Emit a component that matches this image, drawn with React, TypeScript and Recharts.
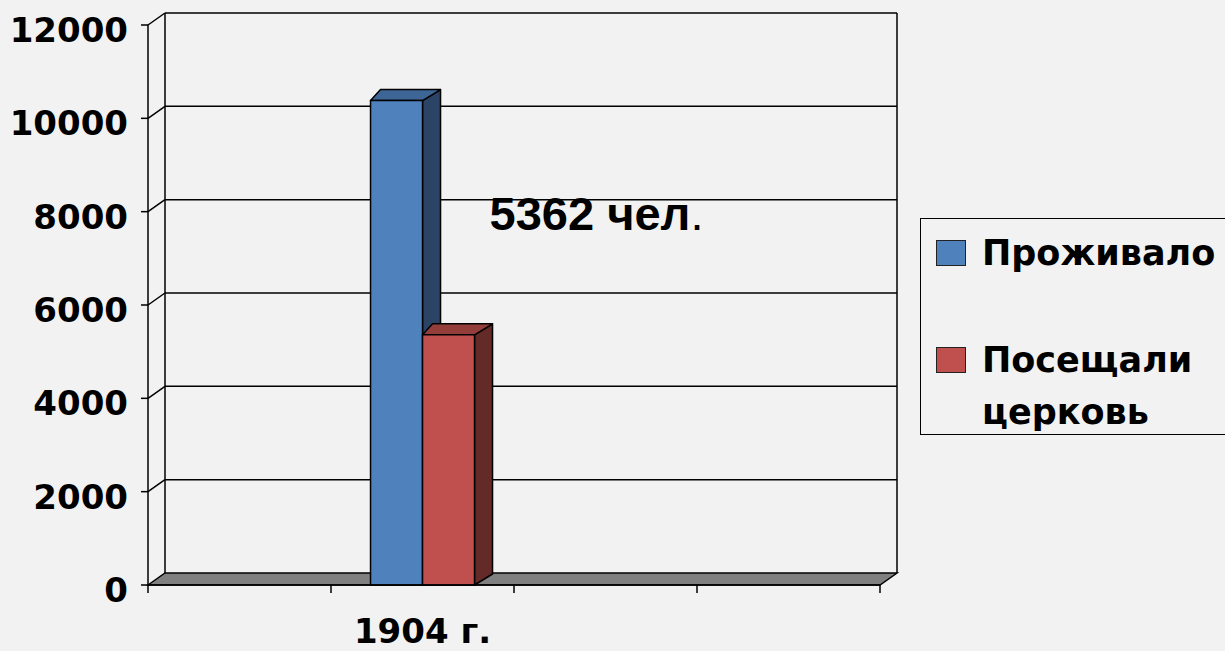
import React from 'react';
import { BarChart, Bar, XAxis, YAxis, CartesianGrid, Legend, LabelList } from 'recharts';

// Excel-style 3D column chart: one filled category out of four
const categories = ['', '1904 г.', '', ''];
const livedValues = [null, 10380, null, null];
const attendedValues = [null, 5362, null, null];
const seriesNames = ['Проживало', 'Посещали церковь'];
const yTicks = [0, 2000, 4000, 6000, 8000, 10000, 12000];
const unitSuffix = ' чел';

const data = categories.map((c, i) => ({
  category: c,
  lived: livedValues[i],
  attended: attendedValues[i],
}));

// depth of the fake 3D walls and bars
const WALL_DX = 17;
const WALL_DY = -12;
const BAR_DY = -11;
const BAR_TOP_DX = 10;
const BAR_SIDE_DX = 18;

const AXIS_FONT = '"DejaVu Sans", Verdana, sans-serif';

function WallLine(props: any) {
  const { x1, x2, y1, index, horizontalPoints } = props;
  const pts: number[] = Array.isArray(horizontalPoints) && horizontalPoints.length
    ? horizontalPoints
    : [props.y, props.y + props.height];
  const bottom = Math.max(...pts);
  const top = Math.min(...pts);
  const isFloor = Math.abs(y1 - bottom) < 0.5;
  const s = { stroke: '#000', strokeWidth: 1.5 };
  return (
    <g key={`wall-${index}`}>
      {isFloor ? (
        <>
          <line x1={x1 + WALL_DX} y1={top + WALL_DY} x2={x1 + WALL_DX} y2={bottom + WALL_DY} {...s} />
          <line x1={x2 + WALL_DX} y1={top + WALL_DY} x2={x2 + WALL_DX} y2={bottom + WALL_DY} {...s} />
          <polygon
            points={`${x1},${y1} ${x1 + WALL_DX},${y1 + WALL_DY} ${x2 + WALL_DX},${y1 + WALL_DY} ${x2},${y1}`}
            fill="#808080"
            {...s}
          />
        </>
      ) : (
        <>
          <line x1={x1} y1={y1} x2={x1 + WALL_DX} y2={y1 + WALL_DY} {...s} />
          <line x1={x1 + WALL_DX} y1={y1 + WALL_DY} x2={x2 + WALL_DX} y2={y1 + WALL_DY} {...s} />
        </>
      )}
    </g>
  );
}

const make3DShape = (front: string, topFill: string, side: string) => (props: any) => {
  const { x, y, width, height } = props;
  if (!height || height <= 0) return <g />;
  const r = x + width;
  const b = y + height;
  return (
    <g stroke="#000" strokeWidth={1.5} strokeLinejoin="round">
      <polygon
        points={`${r},${y} ${r + BAR_SIDE_DX},${y + BAR_DY} ${r + BAR_SIDE_DX},${b + BAR_DY} ${r},${b}`}
        fill={side}
      />
      <polygon
        points={`${x},${y} ${x + BAR_TOP_DX},${y + BAR_DY} ${r + BAR_SIDE_DX},${y + BAR_DY} ${r},${y}`}
        fill={topFill}
      />
      <rect x={x} y={y} width={width} height={height} fill={front} />
    </g>
  );
};

const YTick = (p: any) => (
  <text
    x={p.x}
    y={p.y + 5}
    textAnchor="end"
    dominantBaseline="central"
    fontFamily={AXIS_FONT}
    fontWeight="bold"
    fontSize={34}
    fill="#000"
  >
    {p.payload.value}
  </text>
);

const XTick = (p: any) => {
  const { x, y, payload, index, visibleTicksCount } = p;
  const half = payload.offset ?? 0;
  const label = typeof payload.value === 'number' ? categories[payload.value] : payload.value;
  return (
    <g>
      <line x1={x - half} y1={y} x2={x - half} y2={y + 8} stroke="#000" strokeWidth={1.5} />
      {index === visibleTicksCount - 1 ? (
        <line x1={x + half} y1={y} x2={x + half} y2={y + 8} stroke="#000" strokeWidth={1.5} />
      ) : null}
      <text
        x={x}
        y={y + 58}
        textAnchor="middle"
        fontFamily={AXIS_FONT}
        fontWeight="bold"
        fontSize={34}
        fill="#000"
      >
        {label}
      </text>
    </g>
  );
};

const renderLegend = (props: any) => {
  const items = [...(props.payload || [])].sort(
    (a: any, b: any) => seriesNames.indexOf(a.value) - seriesNames.indexOf(b.value),
  );
  return (
    <div style={{ fontFamily: AXIS_FONT, fontWeight: 'bold', fontSize: 35, color: '#000', paddingTop: 8, paddingLeft: 15 }}>
      {items.map((e: any, i: number) => (
        <div key={i} style={{ display: 'flex', alignItems: 'flex-start', marginBottom: i === 0 ? 55 : 0 }}>
          <span
            style={{
              width: 28,
              height: 24,
              background: e.color,
              border: '1px solid #222',
              marginTop: 13,
              marginRight: 16,
              flexShrink: 0,
            }}
          />
          <span style={{ lineHeight: '52px', width: 243, textAlign: 'left', whiteSpace: 'normal' }}>{e.value}</span>
        </div>
      ))}
    </div>
  );
};

const renderNote = (p: any) => {
  if (p.value == null) return null;
  const vb = p.viewBox ?? p;
  const x = (vb.x ?? p.x) + (vb.width ?? p.width);
  const y = vb.y ?? p.y;
  return (
    <text x={x + 15} y={y - 105} fontFamily='"Liberation Sans", Arial, sans-serif' fontSize={47} fill="#000">
      <tspan fontWeight="bold">{`${p.value}${unitSuffix}`}</tspan>
      <tspan>.</tspan>
    </text>
  );
};

export default function App() {
  return (
    <div style={{ position: 'absolute', left: 0, top: 0, width: 1225, height: 651, background: '#f2f2f2', overflow: 'hidden' }}>
      <BarChart
        width={1225}
        height={651}
        data={data}
        margin={{ top: 25, right: 345, left: 0, bottom: 0 }}
        barGap={0}
        barCategoryGap="21.6%"
      >
        <CartesianGrid horizontal={WallLine} vertical={false} />
        <XAxis
          height={66}
          tickLine={false}
          tickSize={0}
          tickMargin={0}
          interval={0}
          axisLine={{ stroke: '#000', strokeWidth: 1.5 }}
          tick={XTick}
        />
        <YAxis
          width={148}
          domain={[0, 12000]}
          ticks={yTicks}
          interval={0}
          tickSize={7}
          tickMargin={13}
          axisLine={{ stroke: '#000', strokeWidth: 1.5 }}
          tickLine={{ stroke: '#000', strokeWidth: 1.5 }}
          tick={YTick}
        />
        <Legend
          layout="vertical"
          align="center"
          verticalAlign="middle"
          content={renderLegend}
          wrapperStyle={{
            position: 'absolute',
            left: 920,
            top: 218,
            width: 305,
            height: 217,
            boxSizing: 'border-box',
            borderTop: '1.5px solid #000',
            borderLeft: '1.5px solid #000',
            borderBottom: '1.5px solid #000',
            overflow: 'hidden',
          }}
        />
        <Bar
          dataKey="lived"
          name={seriesNames[0]}
          fill="#4f81bd"
          isAnimationActive={false}
          shape={make3DShape('#4f81bd', '#3d6697', '#2b4465')}
        />
        <Bar
          dataKey="attended"
          name={seriesNames[1]}
          fill="#c0504d"
          isAnimationActive={false}
          shape={make3DShape('#c0504d', '#943e3c', '#632a28')}
        >
          <LabelList dataKey="attended" content={renderNote} />
        </Bar>
      </BarChart>
    </div>
  );
}
